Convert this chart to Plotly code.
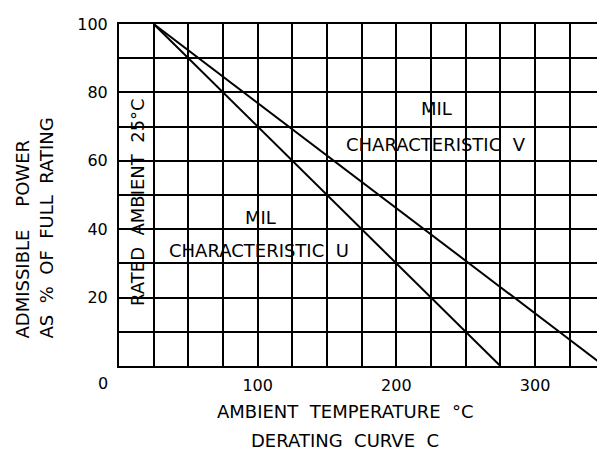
import plotly.graph_objects as go

# ---- data ----
temp_u = [25, 275]
power_u = [100, 0]
temp_v = [25, 350]
power_v = [100, 0]
x_tick_vals = [100, 200, 300]
x_tick_text = ["100", "200", "300"]
y_tick_vals = [20, 40, 60, 80, 100]
y_tick_text = ["20", "40", "60", "80", "100"]
x_grid_vals = [25 * i for i in range(0, 14)]
y_grid_vals = [10 * i for i in range(0, 11)]

W, H = 597, 457
L, T, B, R = 119, 24, 366, 597
FONT = "DejaVu Sans"

def px_x(px):
    return (px - L) / (R - L)

def px_y(py):
    return (B - py) / (B - T)

fig = go.Figure()
for xs, ys in [(temp_u, power_u), (temp_v, power_v)]:
    fig.add_trace(go.Scatter(x=xs, y=ys, mode="lines",
                             line=dict(color="black", width=2),
                             showlegend=False, hoverinfo="skip"))

ann = []
def add_text(text, x, y, size=18, angle=0, xref="x", yref="y", xanchor="center", yanchor="middle", **kw):
    ann.append(dict(text=text, x=x, y=y, xref=xref, yref=yref, showarrow=False,
                    textangle=angle, xanchor=xanchor, yanchor=yanchor,
                    font=dict(family=FONT, size=size, color="black"), **kw))

add_text("MIL", 229, 75.4)
add_text("CHARACTERISTIC  V", 228.5, 64.9)
add_text("MIL", 102, 43.5)
add_text("CHARACTERISTIC  U", 100.7, 33.9)
add_text("RATED  AMBIENT  25°C", 12.8, 47.9, angle=-90)
add_text("0", 0, 0, size=16, xshift=-16, yshift=-17)
add_text("AMBIENT  TEMPERATURE  °C", px_x(345.5), px_y(411), xref="paper", yref="paper")
add_text("DERATING  CURVE  C", px_x(345), px_y(440), xref="paper", yref="paper")
add_text("ADMISSIBLE    POWER", px_x(22), px_y(341), xref="paper", yref="paper",
         angle=-90, yanchor="bottom")
add_text("AS  %  OF  FULL  RATING", px_x(46), px_y(341), xref="paper", yref="paper",
         angle=-90, yanchor="bottom")

fig.update_layout(
    width=W, height=H,
    margin=dict(l=L, r=W - R, t=T, b=H - B),
    paper_bgcolor="white", plot_bgcolor="white",
    font=dict(family=FONT, size=16, color="black"),
    annotations=ann,
    hovermode=False,
    xaxis=dict(range=[0, 25 * (R - L) / 34.67], tickvals=x_tick_vals, ticktext=x_tick_text,
               showgrid=True, gridcolor="black", gridwidth=2,
               minor=dict(tickvals=x_grid_vals, showgrid=True, gridcolor="black", gridwidth=2),
               showline=True, linecolor="black", linewidth=2, mirror=True,
               zeroline=False, ticks="", ticklabelstandoff=4,
               tickfont=dict(family=FONT, size=16, color="black")),
    yaxis=dict(range=[0, 100], tickvals=y_tick_vals, ticktext=y_tick_text,
               showgrid=True, gridcolor="black", gridwidth=2,
               minor=dict(tickvals=y_grid_vals, showgrid=True, gridcolor="black", gridwidth=2),
               showline=True, linecolor="black", linewidth=2, mirror=False,
               zeroline=False, ticks="", ticklabelstandoff=6,
               tickfont=dict(family=FONT, size=16, color="black")),
)

fig.write_html("out.html", config={"displayModeBar": False},
               post_script="document.body.style.margin='0';document.body.style.padding='0';")
